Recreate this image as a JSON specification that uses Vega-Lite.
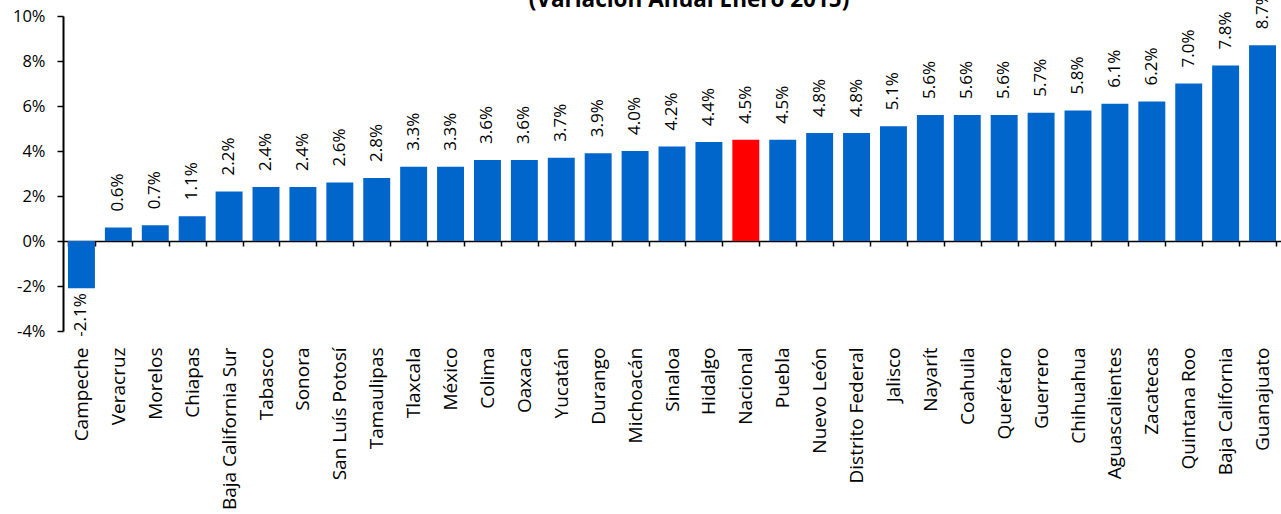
{
  "$schema": "https://vega.github.io/schema/vega-lite/v6.json",
  "width": 1218,
  "height": 315,
  "autosize": {"type": "none"},
  "padding": {"left": 63, "top": 16, "right": 0, "bottom": 183},
  "background": "white",
  "title": {
    "text": "(Variación Anual Enero 2015)",
    "font": "Open Sans",
    "fontSize": 22.5,
    "fontWeight": "bold",
    "color": "#000000",
    "anchor": "middle",
    "frame": "group",
    "baseline": "alphabetic",
    "offset": -38,
    "dx": 17
  },
  "config": {
    "view": {"stroke": null},
    "font": "Open Sans",
    "locale": {
      "number": {
        "decimal": ".",
        "thousands": ",",
        "grouping": [3],
        "currency": ["$", ""],
        "minus": "-"
      }
    }
  },
  "data": {
    "values": [
      {"estado": "Campeche", "valor": -0.021},
      {"estado": "Veracruz", "valor": 0.006},
      {"estado": "Morelos", "valor": 0.007},
      {"estado": "Chiapas", "valor": 0.011},
      {"estado": "Baja California Sur", "valor": 0.022},
      {"estado": "Tabasco", "valor": 0.024},
      {"estado": "Sonora", "valor": 0.024},
      {"estado": "San Luís Potosí", "valor": 0.026},
      {"estado": "Tamaulipas", "valor": 0.028},
      {"estado": "Tlaxcala", "valor": 0.033},
      {"estado": "México", "valor": 0.033},
      {"estado": "Colima", "valor": 0.036},
      {"estado": "Oaxaca", "valor": 0.036},
      {"estado": "Yucatán", "valor": 0.037},
      {"estado": "Durango", "valor": 0.039},
      {"estado": "Michoacán", "valor": 0.040},
      {"estado": "Sinaloa", "valor": 0.042},
      {"estado": "Hidalgo", "valor": 0.044},
      {"estado": "Nacional", "valor": 0.045},
      {"estado": "Puebla", "valor": 0.045},
      {"estado": "Nuevo León", "valor": 0.048},
      {"estado": "Distrito Federal", "valor": 0.048},
      {"estado": "Jalisco", "valor": 0.051},
      {"estado": "Nayarít", "valor": 0.056},
      {"estado": "Coahuila", "valor": 0.056},
      {"estado": "Querétaro", "valor": 0.056},
      {"estado": "Guerrero", "valor": 0.057},
      {"estado": "Chihuahua", "valor": 0.058},
      {"estado": "Aguascalientes", "valor": 0.061},
      {"estado": "Zacatecas", "valor": 0.062},
      {"estado": "Quintana Roo", "valor": 0.070},
      {"estado": "Baja California", "valor": 0.078},
      {"estado": "Guanajuato", "valor": 0.087}
    ]
  },
  "encoding": {
    "x": {
      "field": "estado",
      "type": "nominal",
      "sort": null,
      "scale": {"paddingInner": 0.27, "paddingOuter": 0.135},
      "axis": {
        "title": null,
        "orient": "bottom",
        "offset": -90,
        "domainColor": "#000000",
        "domainWidth": 1.5,
        "tickColor": "#000000",
        "tickWidth": 1.5,
        "tickSize": 5,
        "tickBand": "extent",
        "labelAngle": -90,
        "labelPadding": 101,
        "labelFont": "Open Sans",
        "labelFontSize": 19,
        "labelColor": "#000000",
        "labelLimit": 300
      }
    },
    "y": {
      "field": "valor",
      "type": "quantitative",
      "scale": {"domain": [-0.04, 0.10], "nice": false, "zero": false},
      "axis": {
        "title": null,
        "values": [-0.04, -0.02, 0, 0.02, 0.04, 0.06, 0.08, 0.10],
        "format": ".0%",
        "grid": false,
        "domainColor": "#000000",
        "domainWidth": 2,
        "tickColor": "#000000",
        "tickWidth": 1.5,
        "tickSize": 6,
        "labelPadding": 12,
        "labelFont": "Open Sans",
        "labelFontSize": 16.5,
        "labelColor": "#000000"
      }
    }
  },
  "layer": [
    {
      "mark": {"type": "bar"},
      "encoding": {
        "color": {
          "condition": {"test": "datum.estado === 'Nacional'", "value": "#FF0000"},
          "value": "#0066CC"
        }
      }
    },
    {
      "transform": [{"filter": "datum.valor >= 0"}],
      "mark": {
        "type": "text",
        "angle": 270,
        "align": "left",
        "baseline": "middle",
        "dx": 16,
        "font": "Open Sans",
        "fontSize": 17,
        "color": "#000000"
      },
      "encoding": {
        "text": {"field": "valor", "type": "quantitative", "format": ".1%"}
      }
    },
    {
      "transform": [{"filter": "datum.valor < 0"}],
      "mark": {
        "type": "text",
        "angle": 270,
        "align": "right",
        "baseline": "middle",
        "dx": -5,
        "font": "Open Sans",
        "fontSize": 17,
        "color": "#000000"
      },
      "encoding": {
        "text": {"field": "valor", "type": "quantitative", "format": ".1%"}
      }
    }
  ]
}
